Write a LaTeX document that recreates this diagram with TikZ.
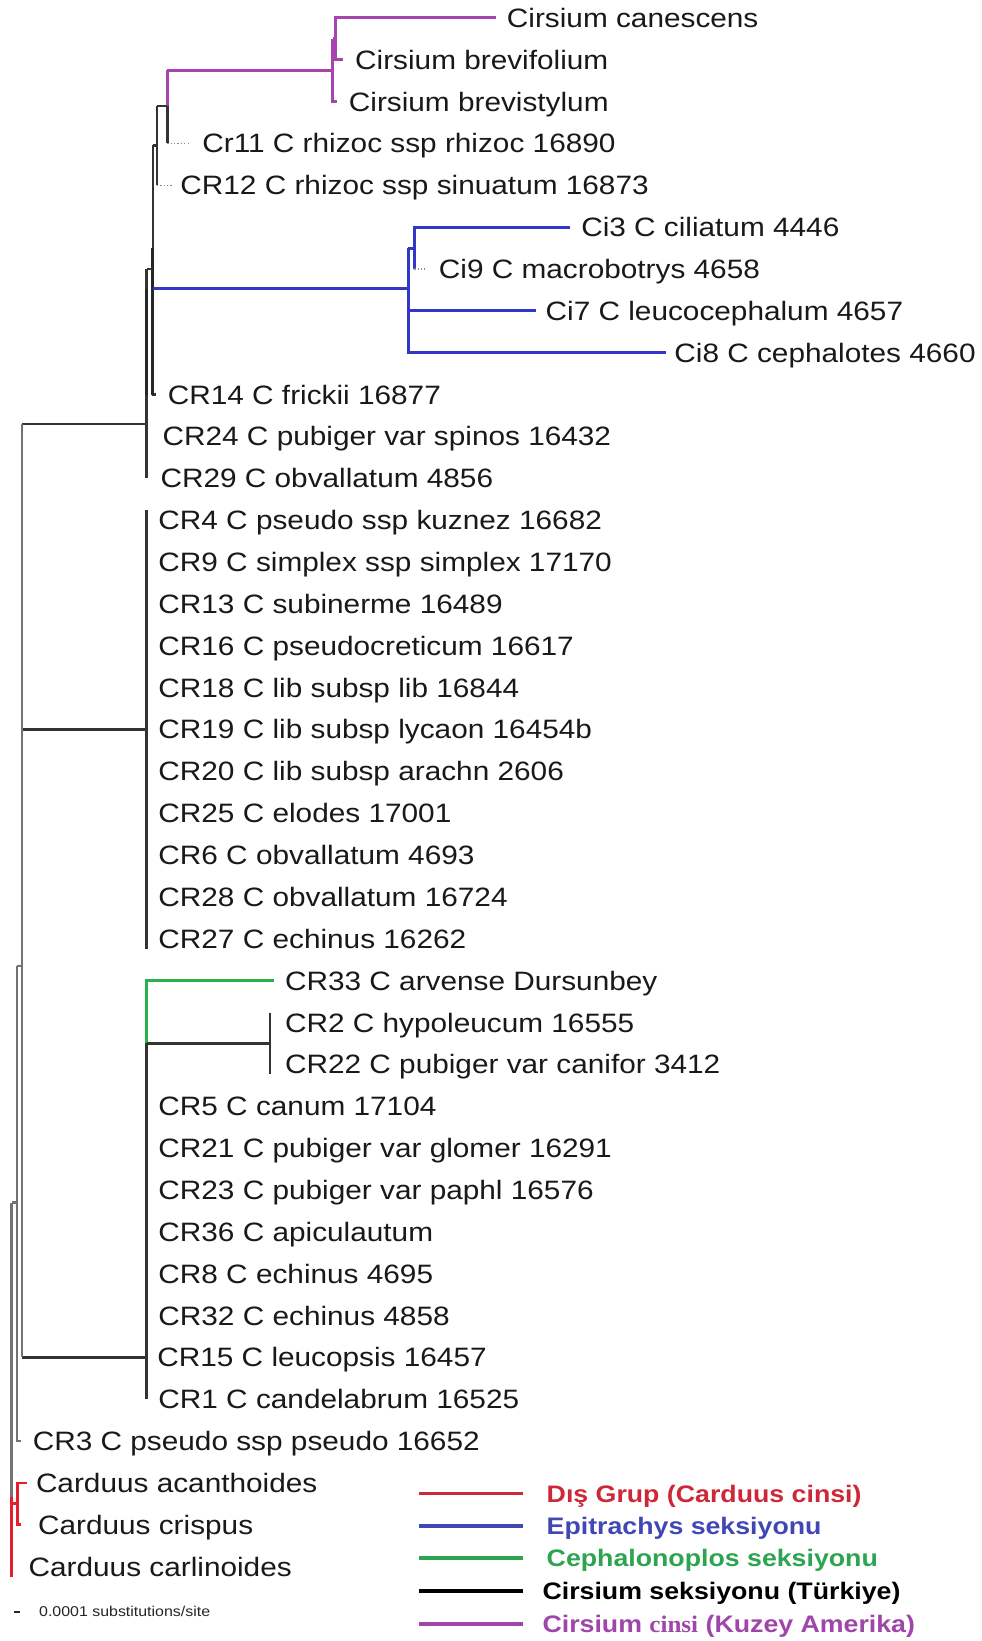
\documentclass[tikz,border=0pt]{standalone}
\usepackage{fontspec}
\setmainfont{Liberation Sans}[FakeStretch=1.12]
\newfontfamily\legserif{Liberation Serif}[FakeStretch=1.05]
\definecolor{cpur}{RGB}{168,68,175}
\definecolor{cblu}{RGB}{50,55,200}
\definecolor{cgrn}{RGB}{40,178,75}
\definecolor{cred}{RGB}{228,30,45}
\definecolor{tred}{RGB}{205,40,55}
\definecolor{tblu}{RGB}{65,72,182}
\definecolor{tgrn}{RGB}{45,165,80}
\definecolor{tpur}{RGB}{160,70,170}
\begin{document}
\begin{tikzpicture}[x=0.5pt,y=-0.5pt]
\tikzset{
  leaf/.style={anchor=west, inner sep=0pt, text height=9.1pt, text depth=0pt,
    font=\fontsize{12.7}{15}\selectfont, text=black!90},
  leg/.style={anchor=west, inner sep=0pt, text height=8.2pt, text depth=0pt,
    font=\bfseries\fontsize{11.4}{13}\selectfont},
  blk/.style={line width=1.1pt, black!80},
  thk/.style={line width=1.6pt, black!85},
  gry/.style={line width=1.1pt, black!55},
  pur/.style={line width=1.4pt, cpur},
  blu/.style={line width=1.4pt, cblu},
  grn/.style={line width=1.4pt, cgrn},
  rd/.style={line width=1.4pt, cred},
  zb/.style={line width=0.6pt, black!45, densely dotted},
  legline/.style={line width=1.8pt},
}
\useasboundingbox (0,0) rectangle (938,1568);
\fill[white] (0,0) rectangle (938,1568);

% ---------------- leaves ----------------
\node[leaf] (l0)  at (484,17)   {Cirsium canescens};
\node[leaf] (l1)  at (339,57)   {Cirsium brevifolium};
\node[leaf] (l2)  at (333,97)   {Cirsium brevistylum};
\node[leaf] (l3)  at (193,137)  {Cr11 C rhizoc ssp rhizoc 16890};
\node[leaf] (l4)  at (172,177)  {CR12 C rhizoc ssp sinuatum 16873};
\node[leaf] (l5)  at (555,217)  {Ci3 C ciliatum 4446};
\node[leaf] (l6)  at (419,257)  {Ci9 C macrobotrys 4658};
\node[leaf] (l7)  at (521,297)  {Ci7 C leucocephalum 4657};
\node[leaf] (l8)  at (644,337)  {Ci8 C cephalotes 4660};
\node[leaf] (l9)  at (160,377)  {CR14 C frickii 16877};
\node[leaf] (l10) at (155,417)  {CR24 C pubiger var spinos 16432};
\node[leaf] (l11) at (153,457)  {CR29 C obvallatum 4856};
\node[leaf] (l12) at (151,497)  {CR4 C pseudo ssp kuznez 16682};
\node[leaf] (l13) at (151,537)  {CR9 C simplex ssp simplex 17170};
\node[leaf] (l14) at (151,577)  {CR13 C subinerme 16489};
\node[leaf] (l15) at (151,617)  {CR16 C pseudocreticum 16617};
\node[leaf] (l16) at (151,657)  {CR18 C lib subsp lib 16844};
\node[leaf] (l17) at (151,697)  {CR19 C lib subsp lycaon 16454b};
\node[leaf] (l18) at (151,737)  {CR20 C lib subsp arachn 2606};
\node[leaf] (l19) at (151,777)  {CR25 C elodes 17001};
\node[leaf] (l20) at (151,817)  {CR6 C obvallatum 4693};
\node[leaf] (l21) at (151,857)  {CR28 C obvallatum 16724};
\node[leaf] (l22) at (151,897)  {CR27 C echinus 16262};
\node[leaf] (l23) at (272,937)  {CR33 C arvense Dursunbey};
\node[leaf] (l24) at (272,977)  {CR2 C hypoleucum 16555};
\node[leaf] (l25) at (272,1017) {CR22 C pubiger var canifor 3412};
\node[leaf] (l26) at (151,1057) {CR5 C canum 17104};
\node[leaf] (l27) at (151,1097) {CR21 C pubiger var glomer 16291};
\node[leaf] (l28) at (151,1137) {CR23 C pubiger var paphl 16576};
\node[leaf] (l29) at (151,1177) {CR36 C apiculautum};
\node[leaf] (l30) at (151,1217) {CR8 C echinus 4695};
\node[leaf] (l31) at (151,1257) {CR32 C echinus 4858};
\node[leaf] (l32) at (150,1297) {CR15 C leucopsis 16457};
\node[leaf] (l33) at (151,1337) {CR1 C candelabrum 16525};
\node[leaf] (l34) at (31,1377)  {CR3 C pseudo ssp pseudo 16652};
\node[leaf] (l35) at (34,1417)  {Carduus acanthoides};
\node[leaf] (l36) at (36,1457)  {Carduus crispus};
\node[leaf] (l37) at (27,1497)  {Carduus carlinoides};

% ---------------- internal nodes ----------------
\coordinate (B)  at (321,37);
\coordinate (A)  at (318,67);
\coordinate (C)  at (160,101);
\coordinate (D)  at (150,139);
\coordinate (E1) at (146,257);
\coordinate (E2) at (140,405);
\coordinate (G)  at (396,237);
\coordinate (F)  at (390,276);
\coordinate (P1) at (140,697);
\coordinate (I)  at (258,997);
\coordinate (H)  at (140,1297);
\coordinate (Nb) at (21,923);
\coordinate (Na) at (16,1149);
\coordinate (R)  at (11,1149);
\coordinate (O0) at (11,1430);
\coordinate (O1) at (17,1437);

% ---------------- purple clade ----------------
\draw[pur] ([xshift=-5pt]l0.west) -| (B |- l1.west) -- ++(7,0);
\draw[pur] (A |- B) -- (B);
\draw[pur] (A |- B) -- (A |- l2.west) -- ++(4,0);
\draw[pur] (C |- A) -- (A);
\draw[pur] (C |- A) -- (C);
\draw[blk] (C) -- (C |- l3.west);
\draw[zb] (C |- l3.west) -- ++(21,0);
\draw[blk] (D |- C) -- (C);
\draw[blk] (D |- C) -- (D |- l4.west);
\draw[zb] (D |- l4.west) -- ++(14,0);

% ---------------- upper black + blue ----------------
\draw[blk] (E1 |- D) -- (D);
\draw[blk] (E1 |- D) -- (E1 |- l9.west) -- ++(3,0);
\draw[thk] (E1 |- G) -- (E1 |- l9.west);
\draw[blu] (E1 |- F) -- (F);
\draw[blk] (E2 |- E1) -- (E1);
\draw[blk] (E2 |- E1) -- (E2 |- l11.west);
\draw[thk] (E2 |- F) -- (E2 |- l9.west);

\draw[blu] (F |- G) -- (G);
\draw[blu] (F |- G) -- (F |- l8.west) -- ([xshift=-4pt]l8.west);
\draw[blu] (F |- l7.west) -- ([xshift=-4.5pt]l7.west);
\draw[blu] ([xshift=-5pt]l5.west) -| (G |- l6.west);
\draw[zb] (G |- l6.west) -- ++(10,0);

% ---------------- polytomy CR4..CR27 ----------------
\draw[blk] (P1 |- l12.north) -- (P1 |- l22.south);

% ---------------- green / lower clade ----------------
\draw[grn] ([xshift=-5pt]l23.west) -| (H |- I);
\draw[blk] (H |- I) -- (I);
\draw[blk] (I |- l24.north) -- (I |- l25.south);
\draw[blk] (H |- I) -- (H |- l33.west);

% ---------------- backbone ----------------
\draw[blk] (Nb |- E2) -- (E2);
\draw[blk] (Nb |- P1) -- (P1);
\draw[blk] (Nb |- H) -- (H);
\draw[gry] (Nb |- E2) -- (Nb |- H);
\draw[gry] (Na |- Nb) -- (Nb);
\draw[gry] (Na |- Nb) -- (Na |- l34.west) -- ++(4,0);
\draw[gry] (R) -- (Na);
\draw[gry] (R) -- (O0);

% ---------------- outgroup (red) ----------------
\draw[rd] (O0) -- (O0 |- l37.south);
\draw[rd] (O1 -| O0) -- (O1);
\draw[rd] ([xshift=-4pt]l35.west) -| (O1 |- l36.west) -- ++(3,0);

% ---------------- scale bar ----------------
\node[anchor=west, inner sep=0pt, font=\fontsize{6.8}{8}\selectfont, text=black!85] (sb) at (37,1540) {0.0001 substitutions/site};
\draw[line width=1pt, black!85] ([xshift=-9pt]sb.west) -- ([xshift=-12pt]sb.west);

% ---------------- legend ----------------
\node[leg, text=tred] (g1) at (522,1427) {Dış Grup (Carduus cinsi)};
\node[leg, text=tblu] (g2) at (522,1458) {Epitrachys seksiyonu};
\node[leg, text=tgrn] (g3) at (522,1489) {Cephalonoplos seksiyonu};
\node[leg, text=black] (g4) at (518,1520) {Cirsium seksiyonu (Türkiye)};
\node[leg, text=tpur] (g5) at (518,1552) {Cirsium {\legserif\bfseries cinsi} (Kuzey Amerika)};
\draw[legline, tred]  ([xshift=-11pt]g1.west) -- ([xshift=-61pt]g1.west);
\draw[legline, tblu]  ([xshift=-11pt]g2.west) -- ([xshift=-61pt]g2.west);
\draw[legline, tgrn]  ([xshift=-11pt]g3.west) -- ([xshift=-61pt]g3.west);
\draw[legline, black] ([xshift=-9pt]g4.west) -- ([xshift=-59pt]g4.west);
\draw[legline, tpur]  ([xshift=-9pt]g5.west) -- ([xshift=-59pt]g5.west);
\end{tikzpicture}
\end{document}
